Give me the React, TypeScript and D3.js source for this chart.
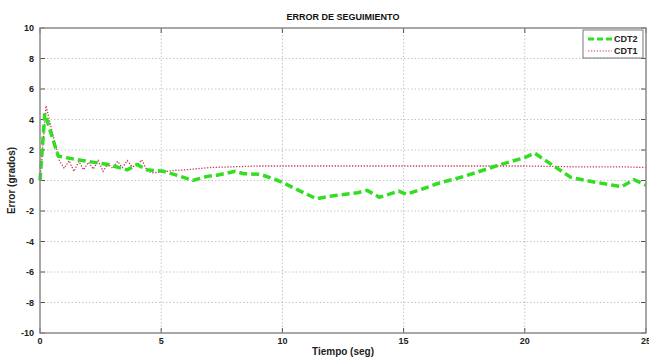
import React, { useRef, useEffect } from "react";
import * as d3 from "d3";

const xTicks = [0, 5, 10, 15, 20, 25];
const yTicks = [-10, -8, -6, -4, -2, 0, 2, 4, 6, 8, 10];

// CDT2 (green dashed)
const cdt2T = [0, 0.2, 0.75, 1.4, 1.8, 2.8, 3.6, 4.0, 4.4, 5.1, 5.8, 6.3, 6.9, 7.3, 8.05, 8.4, 9.1, 9.9, 11.4, 12.1, 13.1, 13.5, 14.0, 14.8, 15.1, 15.7, 16.5, 17.5, 18.9, 20.0, 20.4, 21.9, 22.7, 23.4, 24.0, 24.5, 25];
const cdt2V = [0, 4.4, 1.6, 1.4, 1.3, 1.05, 0.7, 1.05, 0.7, 0.6, 0.27, 0, 0.27, 0.35, 0.6, 0.45, 0.4, -0.05, -1.2, -1.0, -0.8, -0.65, -1.1, -0.7, -0.9, -0.6, -0.15, 0.27, 1.0, 1.5, 1.8, 0.2, -0.05, -0.25, -0.4, 0.05, -0.3];

// CDT1 (red dotted)
const cdt1T = [0, 0.25, 0.5, 0.8, 1.0, 1.2, 1.4, 1.6, 1.8, 2.0, 2.2, 2.4, 2.6, 2.8, 3.0, 3.2, 3.4, 3.6, 3.8, 4.0, 4.2, 4.4, 4.6, 5.0, 5.5, 6, 7, 8, 9, 10, 12, 14, 16, 18, 20, 22, 24, 25];
const cdt1V = [0, 4.9, 3.2, 1.3, 0.8, 1.3, 0.6, 1.25, 0.7, 1.2, 0.75, 1.3, 0.6, 1.1, 0.8, 1.25, 0.85, 1.3, 0.9, 1.0, 1.35, 0.7, 0.5, 0.55, 0.65, 0.7, 0.85, 0.9, 0.95, 0.95, 0.95, 0.95, 0.95, 0.95, 0.95, 0.9, 0.9, 0.85];

const App = () => {
  const ref = useRef<SVGSVGElement | null>(null);

  useEffect(() => {
    const svg = d3.select(ref.current);
    svg.selectAll("*").remove();
    const font = "'Liberation Sans', Arial, sans-serif";

    const x = d3.scaleLinear().domain([0, 25]).range([40, 646]);
    const y = d3.scaleLinear().domain([-10, 10]).range([333, 28]);

    svg.append("rect").attr("width", 649).attr("height", 358).attr("fill", "#fff");

    // grid
    const grid = svg.append("g").attr("stroke", "#b8b8b8").attr("stroke-width", 0.8).attr("stroke-dasharray", "1.5 2");
    xTicks.slice(1, -1).forEach((t) => {
      grid.append("line").attr("x1", x(t)).attr("x2", x(t)).attr("y1", y(10)).attr("y2", y(-10));
    });
    yTicks.slice(1, -1).forEach((t) => {
      grid.append("line").attr("x1", x(0)).attr("x2", x(25)).attr("y1", y(t)).attr("y2", y(t));
    });

    // ticks inward on all sides
    const ticks = svg.append("g").attr("stroke", "#555").attr("stroke-width", 1);
    xTicks.forEach((t) => {
      ticks.append("line").attr("x1", x(t)).attr("x2", x(t)).attr("y1", y(-10)).attr("y2", y(-10) - 5);
      ticks.append("line").attr("x1", x(t)).attr("x2", x(t)).attr("y1", y(10)).attr("y2", y(10) + 5);
    });
    yTicks.forEach((t) => {
      ticks.append("line").attr("x1", x(0)).attr("x2", x(0) + 5).attr("y1", y(t)).attr("y2", y(t));
      ticks.append("line").attr("x1", x(25)).attr("x2", x(25) - 5).attr("y1", y(t)).attr("y2", y(t));
    });

    // lines
    const line = d3.line<[number, number]>().x((d) => x(d[0])).y((d) => y(d[1]));
    const red = cdt1T.map((t, i) => [t, cdt1V[i]] as [number, number]);
    const green = cdt2T.map((t, i) => [t, cdt2V[i]] as [number, number]);

    svg.append("path").attr("d", line(red)).attr("fill", "none")
      .attr("stroke", "#c8385a").attr("stroke-width", 1.3).attr("stroke-dasharray", "1.3 1.6");
    svg.append("path").attr("d", line(green)).attr("fill", "none")
      .attr("stroke", "#33dd22").attr("stroke-width", 3.5).attr("stroke-dasharray", "8 4");

    // frame
    svg.append("rect").attr("x", x(0)).attr("y", y(10)).attr("width", x(25) - x(0)).attr("height", y(-10) - y(10))
      .attr("fill", "none").attr("stroke", "#8a8a8a").attr("stroke-width", 1.5);

    // tick labels
    const lbl = svg.append("g").attr("font-family", font).attr("font-size", 9).attr("font-weight", "bold").attr("fill", "#222");
    yTicks.forEach((t) => {
      lbl.append("text").attr("x", 34).attr("y", y(t) + 3).attr("text-anchor", "end").text(t);
    });
    xTicks.forEach((t) => {
      lbl.append("text").attr("x", x(t)).attr("y", 344).attr("text-anchor", "middle").text(t);
    });

    // titles
    svg.append("text").attr("x", 343).attr("y", 20).attr("text-anchor", "middle")
      .attr("font-family", font).attr("font-size", 9).attr("font-weight", "bold").attr("fill", "#111")
      .text("ERROR DE SEGUIMIENTO");
    svg.append("text").attr("x", 343).attr("y", 355).attr("text-anchor", "middle")
      .attr("font-family", font).attr("font-size", 10).attr("font-weight", "bold").attr("fill", "#222")
      .text("Tiempo (seg)");
    svg.append("text").attr("transform", `translate(15,${y(0)}) rotate(-90)`).attr("text-anchor", "middle")
      .attr("font-family", font).attr("font-size", 10).attr("font-weight", "bold").attr("fill", "#222")
      .text("Error (grados)");

    // legend
    const lg = svg.append("g");
    lg.append("rect").attr("x", 583).attr("y", 30).attr("width", 60).attr("height", 28)
      .attr("fill", "#fff").attr("stroke", "#777").attr("stroke-width", 1);
    lg.append("line").attr("x1", 588).attr("x2", 612).attr("y1", 39).attr("y2", 39)
      .attr("stroke", "#33dd22").attr("stroke-width", 3).attr("stroke-dasharray", "6 3");
    lg.append("line").attr("x1", 588).attr("x2", 612).attr("y1", 51).attr("y2", 51)
      .attr("stroke", "#c8385a").attr("stroke-width", 1.2).attr("stroke-dasharray", "1.3 1.6");
    lg.append("text").attr("x", 614).attr("y", 42).attr("font-family", font).attr("font-size", 9)
      .attr("font-weight", "bold").attr("fill", "#222").text("CDT2");
    lg.append("text").attr("x", 614).attr("y", 54).attr("font-family", font).attr("font-size", 9)
      .attr("font-weight", "bold").attr("fill", "#222").text("CDT1");
  }, []);

  return (
    <svg ref={ref} width={649} height={358} viewBox="0 0 649 358"
      style={{ position: "absolute", left: 0, top: 0 }} />
  );
};

export default App;
